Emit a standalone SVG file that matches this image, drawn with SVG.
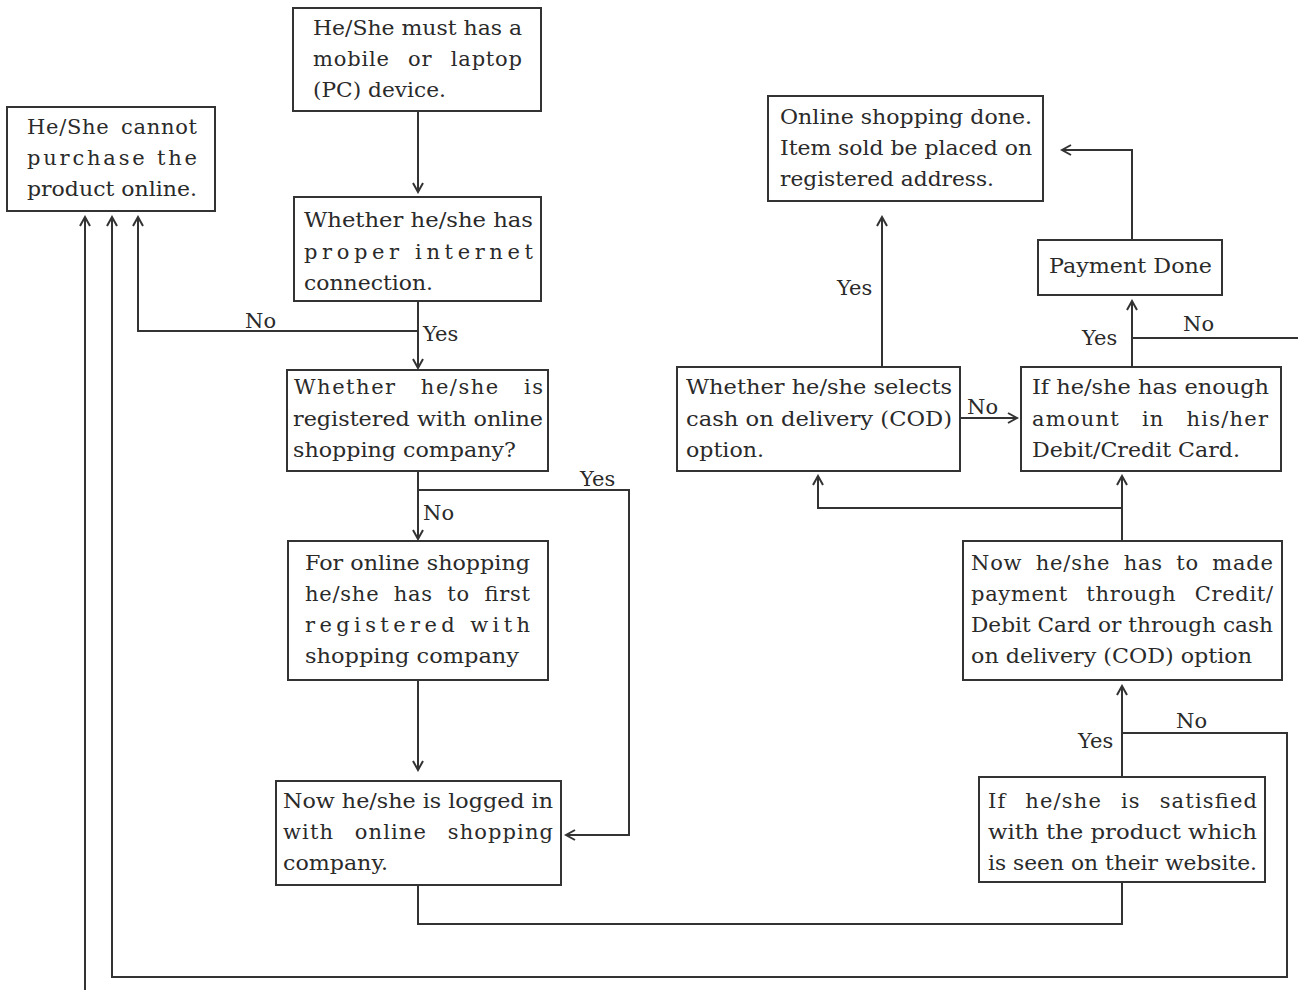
<svg xmlns="http://www.w3.org/2000/svg" width="1298" height="990" viewBox="0 0 1298 990">
<style>
.box{fill:#fff;stroke:#333;stroke-width:2}
.t{font-family:"DejaVu Serif","Liberation Serif",serif;font-size:21px;fill:#2a2a2a}
.lb{font-family:"DejaVu Serif","Liberation Serif",serif;font-size:21px;fill:#2a2a2a}
.c{fill:none;stroke:#333;stroke-width:2}
</style>
<defs>
<marker id="ah" markerUnits="userSpaceOnUse" markerWidth="14" markerHeight="14" viewBox="0 0 14 14" refX="12" refY="7" orient="auto">
<path d="M3,2 L12,7 L3,12" fill="none" stroke="#333" stroke-width="2"/>
</marker>
</defs>
<rect width="1298" height="990" fill="#fff"/>
<g id="connectors">
<path class="c" d="M418,111 V192" marker-end="url(#ah)"/>
<path class="c" d="M418,301 V368" marker-end="url(#ah)"/>
<path class="c" d="M418,331 H138 V217" marker-end="url(#ah)"/>
<path class="c" d="M418,471 V539" marker-end="url(#ah)"/>
<path class="c" d="M418,490 H629 V835 H566" marker-end="url(#ah)"/>
<path class="c" d="M418,680 V770" marker-end="url(#ah)"/>
<path class="c" d="M418,885 V924 H1122 V882"/>
<path class="c" d="M1122,777 V686" marker-end="url(#ah)"/>
<path class="c" d="M1122,733 H1287 V977 H112 V217" marker-end="url(#ah)"/>
<path class="c" d="M85,990 V217" marker-end="url(#ah)"/>
<path class="c" d="M1122,541 V476" marker-end="url(#ah)"/>
<path class="c" d="M1122,508 H818 V476" marker-end="url(#ah)"/>
<path class="c" d="M960,418 H1017" marker-end="url(#ah)"/>
<path class="c" d="M882,367 V217" marker-end="url(#ah)"/>
<path class="c" d="M1132,367 V301" marker-end="url(#ah)"/>
<path class="c" d="M1132,338 H1298"/>
<path class="c" d="M1132,240 V150 H1062" marker-end="url(#ah)"/>
<text class="lb" x="245" y="328">No</text>
<text class="lb" x="423" y="341">Yes</text>
<text class="lb" x="423" y="520">No</text>
<text class="lb" x="580" y="486">Yes</text>
<text class="lb" x="837" y="295">Yes</text>
<text class="lb" x="967" y="414">No</text>
<text class="lb" x="1082" y="345">Yes</text>
<text class="lb" x="1183" y="331">No</text>
<text class="lb" x="1078" y="748">Yes</text>
<text class="lb" x="1176" y="728">No</text>
</g>
<g id="n1">
<rect class="box" x="293" y="8" width="248" height="103"/>
<text class="t" x="313" y="35" textLength="209" lengthAdjust="spacingAndGlyphs">He/She must has a</text>
<text class="t" x="313" y="66" word-spacing="11" textLength="209" lengthAdjust="spacing">mobile or laptop</text>
<text class="t" x="313" y="97" textLength="133" lengthAdjust="spacingAndGlyphs">(PC) device.</text>
</g>
<g id="n2">
<rect class="box" x="7" y="107" width="208" height="104"/>
<text class="t" x="27" y="134" word-spacing="4" textLength="170" lengthAdjust="spacing">He/She cannot</text>
<text class="t" x="27" y="165" textLength="170" lengthAdjust="spacing">purchase the</text>
<text class="t" x="27" y="196" textLength="170" lengthAdjust="spacingAndGlyphs">product online.</text>
</g>
<g id="n3">
<rect class="box" x="294" y="197" width="247" height="104"/>
<text class="t" x="304" y="227" textLength="229" lengthAdjust="spacingAndGlyphs">Whether he/she has</text>
<text class="t" x="304" y="259" textLength="229" lengthAdjust="spacing">proper internet</text>
<text class="t" x="304" y="290" textLength="129" lengthAdjust="spacingAndGlyphs">connection.</text>
</g>
<g id="n4">
<rect class="box" x="287" y="370" width="261" height="101"/>
<text class="t" x="294" y="394" word-spacing="16" textLength="249" lengthAdjust="spacing">Whether he/she is</text>
<text class="t" x="293" y="426" textLength="250" lengthAdjust="spacingAndGlyphs">registered with online</text>
<text class="t" x="293" y="457" textLength="223" lengthAdjust="spacingAndGlyphs">shopping company?</text>
</g>
<g id="n5">
<rect class="box" x="288" y="541" width="260" height="139"/>
<text class="t" x="305" y="570" textLength="225" lengthAdjust="spacingAndGlyphs">For online shopping</text>
<text class="t" x="305" y="601" word-spacing="7" textLength="225" lengthAdjust="spacing">he/she has to first</text>
<text class="t" x="305" y="632" textLength="225" lengthAdjust="spacing">registered with</text>
<text class="t" x="305" y="663" textLength="214" lengthAdjust="spacingAndGlyphs">shopping company</text>
</g>
<g id="n6">
<rect class="box" x="276" y="781" width="285" height="104"/>
<text class="t" x="283" y="808" textLength="270" lengthAdjust="spacingAndGlyphs">Now he/she is logged in</text>
<text class="t" x="283" y="839" word-spacing="13" textLength="270" lengthAdjust="spacing">with online shopping</text>
<text class="t" x="283" y="870" textLength="105" lengthAdjust="spacingAndGlyphs">company.</text>
</g>
<g id="n7">
<rect class="box" x="768" y="96" width="275" height="105"/>
<text class="t" x="780" y="124" textLength="252" lengthAdjust="spacingAndGlyphs">Online shopping done.</text>
<text class="t" x="780" y="155" textLength="252" lengthAdjust="spacingAndGlyphs">Item sold be placed on</text>
<text class="t" x="780" y="186" textLength="214" lengthAdjust="spacingAndGlyphs">registered address.</text>
</g>
<g id="n8">
<rect class="box" x="1038" y="240" width="184" height="55"/>
<text class="t" x="1049" y="273" textLength="163" lengthAdjust="spacingAndGlyphs">Payment Done</text>
</g>
<g id="n9">
<rect class="box" x="677" y="367" width="283" height="104"/>
<text class="t" x="686" y="394" textLength="266" lengthAdjust="spacingAndGlyphs">Whether he/she selects</text>
<text class="t" x="686" y="426" textLength="266" lengthAdjust="spacingAndGlyphs">cash on delivery (COD)</text>
<text class="t" x="686" y="457" textLength="78" lengthAdjust="spacingAndGlyphs">option.</text>
</g>
<g id="n10">
<rect class="box" x="1021" y="367" width="260" height="104"/>
<text class="t" x="1032" y="394" textLength="237" lengthAdjust="spacingAndGlyphs">If he/she has enough</text>
<text class="t" x="1032" y="426" word-spacing="14" textLength="236" lengthAdjust="spacing">amount in his/her</text>
<text class="t" x="1032" y="457" textLength="208" lengthAdjust="spacingAndGlyphs">Debit/Credit Card.</text>
</g>
<g id="n11">
<rect class="box" x="963" y="541" width="319" height="139"/>
<text class="t" x="971" y="570" word-spacing="6" textLength="302" lengthAdjust="spacing">Now he/she has to made</text>
<text class="t" x="971" y="601" word-spacing="11" textLength="302" lengthAdjust="spacing">payment through Credit/</text>
<text class="t" x="971" y="632" textLength="302" lengthAdjust="spacingAndGlyphs">Debit Card or through cash</text>
<text class="t" x="971" y="663" textLength="281" lengthAdjust="spacingAndGlyphs">on delivery (COD) option</text>
</g>
<g id="n12">
<rect class="box" x="979" y="777" width="286" height="105"/>
<text class="t" x="988" y="808" word-spacing="11" textLength="269" lengthAdjust="spacing">If he/she is satisfied</text>
<text class="t" x="988" y="839" textLength="269" lengthAdjust="spacingAndGlyphs">with the product which</text>
<text class="t" x="988" y="870" textLength="269" lengthAdjust="spacingAndGlyphs">is seen on their website.</text>
</g>
</svg>
